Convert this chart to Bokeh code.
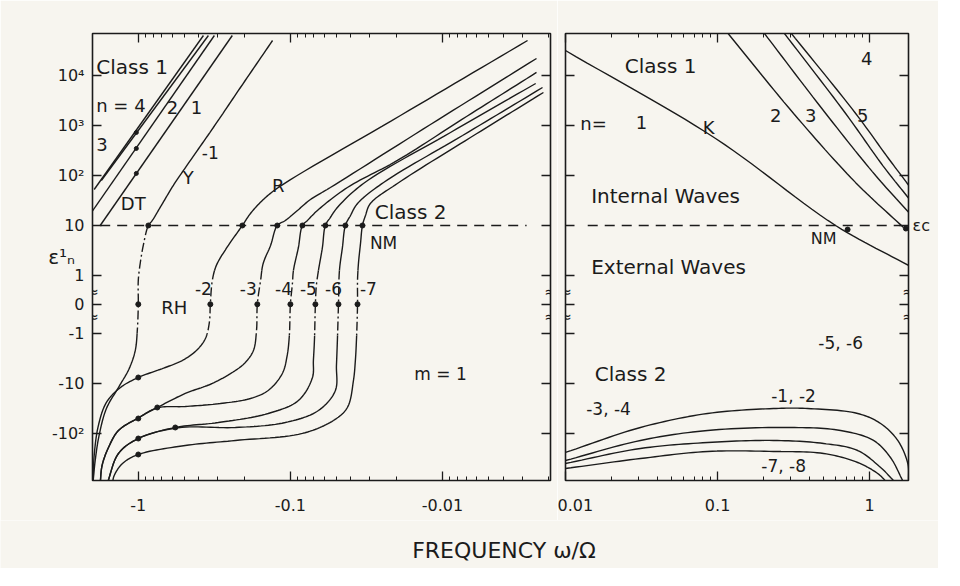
import numpy as np
from bokeh.plotting import figure
from bokeh.models import Range1d, FixedTicker, LogAxis, LinearAxis, Label
from bokeh.layouts import column, row
from bokeh.core.properties import value
from bokeh.embed import file_html
from bokeh.resources import INLINE

# ---------------- data ----------------
eps_ticks = [1e4, 1e3, 1e2, 10, 1, 0, -1, -10, -100]
eps_tick_labels = ["10⁴", "10³", "10²", "10", "1", "0", "-1", "-10", "-10²"]
left_freq_ticks = [-1, -0.1, -0.01]
left_freq_labels = ["-1", "-0.1", "-0.01"]
right_freq_ticks = [0.01, 0.1, 1]
right_freq_labels = ["0.01", "0.1", "1"]
break_eps = [0.41, -0.46]
eps_c = 10  # critical value marked at the right edge

# Class 1, westward (left panel): n = 4, 3, 2, 1
c1_n4_w = [-1.95, -0.373]; c1_n4_e = [52.5, 63100]
c1_n3_w = [-1.75, -0.346]; c1_n3_e = [79.4, 63100]
c1_n2_w = [-2.01, -0.316]; c1_n2_e = [19.1, 63100]
c1_n1_w = [-1.78, -0.241]; c1_n1_e = [10, 63100]
c1_mark_w = [-1.03, -1.03, -1.03]; c1_mark_e = [724, 347, 110]

# Yanai / Rossby-Haurwitz branch (n = -1)
y_w = [-0.131, -0.213, -0.321, -0.469, -0.589, -0.706, -0.809, -0.859, -0.927, -0.97, -1.0, -1.0,
       -1.015, -1.047, -1.146, -1.35, -1.62, -1.81, -1.92, -1.98]
y_e = [50100, 5750, 912, 174, 63, 25.1, 12.6, 10, 4.0, 1.8, 0.83, 0,
       -0.91, -2.24, -5.1, -12.3, -32.4, -112, -355, -900]

# Class 2, westward, n = -2 ... -7
n2_w = [-0.00276, -0.0189, -0.120, -0.153, -0.183, -0.207, -0.264, -0.307, -0.326, -0.336, -0.341,
        -0.362, -0.415, -0.514, -0.664, -1.0, -1.31, -1.62, -1.83, -1.95, -1.98]
n2_e = [50100, 1585, 57.5, 31.6, 17.4, 10, 3.47, 1.58, 0.83, 0, -0.63,
        -1.29, -2.24, -3.55, -4.90, -7.76, -12.3, -24.5, -71, -282, -891]
n3_w = [-0.00241, -0.0120, -0.0546, -0.0738, -0.0899, -0.108, -0.122, -0.135, -0.151, -0.157, -0.165,
        -0.167, -0.175, -0.198, -0.230, -0.326, -0.491, -0.750, -1.015, -1.35, -1.57, -1.73, -1.78]
n3_e = [21900, 1047, 57.5, 33.1, 20.0, 12.6, 10, 3.98, 1.74, 0.83, 0,
        -0.91, -2.24, -3.89, -5.62, -10.2, -16.2, -30.9, -51.3, -89.1, -195, -447, -1023]
n4_w = [-0.00241, -0.00695, -0.0198, -0.0422, -0.0664, -0.0773, -0.0834, -0.0886, -0.0955, -0.0970, -0.1,
        -0.1016, -0.105, -0.113, -0.140, -0.183, -0.289, -0.491, -0.750, -1.015, -1.35, -1.57, -1.73, -1.78]
n4_e = [11500, 1514, 200, 57.5, 20.0, 12.6, 10, 3.63, 1.26, 0.72, 0,
        -1.12, -2.82, -6.46, -14.1, -20.4, -25.7, -29.5, -31.5, -51.3, -89.1, -195, -447, -1023]
n5_w = [-0.00244, -0.00886, -0.0331, -0.0491, -0.0546, -0.0589, -0.0616, -0.0654, -0.0675, -0.0685,
        -0.0695, -0.0706, -0.0716, -0.0886, -0.140, -0.298, -0.571, -1.0, -1.35, -1.60]
n5_e = [6920, 724, 69.2, 22.9, 14.5, 10, 3.63, 1.26, 0.65, 0,
        -1.41, -3.55, -7.76, -22.4, -40.7, -61.7, -77.6, -129, -257, -1023]
n6_w = [-0.00220, -0.00738, -0.0244, -0.0362, -0.0403, -0.0435, -0.0455, -0.0476, -0.0483,
        -0.0491, -0.0498, -0.0506, -0.0654, -0.108, -0.230, -0.546, -1.0, -1.35, -1.60]
n6_e = [5750, 631, 72.4, 27.5, 15.8, 10, 3.63, 1.26, 0,
        -1.41, -4.47, -14.1, -35.5, -61.7, -77.6, -78.5, -129, -257, -1023]
n7_w = [-0.00217, -0.00655, -0.0198, -0.0298, -0.0321, -0.0336, -0.0346, -0.0357, -0.0362, -0.0362,
        -0.0368, -0.0374, -0.0385, -0.0422, -0.0521, -0.0834, -0.230, -0.491, -1.0, -1.27, -1.44, -1.48]
n7_e = [4570, 575, 69.2, 27.5, 15.8, 10, 4.37, 1.74, 0.83, 0,
        -1.41, -3.55, -8.91, -30.9, -56.2, -102, -141, -178, -269, -407, -708, -1023]

mark10_w = [-0.859, -0.207, -0.122, -0.0834, -0.0589, -0.0435, -0.0336]
mark0_w = [-1.0, -0.336, -0.165, -0.1, -0.0685, -0.0483, -0.0362]
marklow_w = [-1.0, -0.75, -1.0, -0.571, -1.0, -1.0]
marklow_e = [-7.76, -30.9, -51.3, -77.6, -129, -269]

# Class 1, eastward (right panel): n = 1 (Kelvin), 2, 3, 5, 4
k_w = [0.01, 0.097, 0.597, 1.81];  k_e = [31600, 550, 10, 1.58]
r2_w = [0.113, 0.316, 0.809, 1.67]; r2_e = [79400, 1740, 72, 9.1]
r3_w = [0.201, 0.514, 1.094, 1.81]; r3_e = [72400, 1740, 100, 18.2]
r5_w = [0.272, 0.695, 1.22, 1.81];  r5_e = [72400, 1740, 158, 34.7]
r4_w = [0.302, 0.809, 1.33, 1.81];  r4_e = [72400, 1740, 219, 63]
rmark_w = [0.716, 1.73]; rmark_e = [8.3, 8.7]

# Class 2, eastward (right panel)
ra_w = [0.01, 0.0311, 0.0859, 0.233, 0.391, 0.834, 1.18, 1.53, 1.78, 1.8]
ra_e = [-245, -77.6, -40.7, -32.4, -32.4, -40.7, -64.6, -141, -407, -900]
rb_w = [0.01, 0.0311, 0.0859, 0.302, 0.644, 1.06, 1.37, 1.65]
rb_e = [-355, -141, -89, -77.6, -89, -141, -309, -900]
rc_w = [0.01, 0.0311, 0.0859, 0.233, 0.498, 0.834, 1.18, 1.44]
rc_e = [-407, -204, -155, -141, -162, -224, -490, -900]
rd_w = [0.01, 0.0311, 0.0859, 0.233, 0.498, 0.834, 1.13, 1.27]
rd_e = [-513, -324, -234, -234, -257, -389, -646, -900]

dash_left_w = [-1.78, -0.0028]
dash_right_w = [0.014, 1.6]
dash_eps = 10

left_texts = [
    ("Class 1", -1.89, 14500, "left", "20px"),
    ("n = 4", -1.89, 2510, "left", "18px"),
    ("2", -0.597, 2290, "center", "18px"),
    ("1", -0.415, 2290, "center", "18px"),
    ("3", -1.73, 417, "center", "18px"),
    ("-1", -0.336, 288, "center", "17px"),
    ("Y", -0.469, 91, "center", "18px"),
    ("DT", -1.08, 27.5, "center", "18px"),
    ("R", -0.12, 63, "center", "18px"),
    ("Class 2", -0.0162, 18.2, "center", "20px"),
    ("NM", -0.0244, 4.57, "center", "17px"),
    ("-2", -0.373, 0.55, "center", "17px"),
    ("-3", -0.189, 0.55, "center", "17px"),
    ("-4", -0.111, 0.55, "center", "17px"),
    ("-5", -0.0762, 0.55, "center", "17px"),
    ("-6", -0.0521, 0.55, "center", "17px"),
    ("-7", -0.0307, 0.55, "center", "17px"),
    ("RH", -0.58, -0.11, "center", "18px"),
    ("m = 1", -0.0103, -6.46, "center", "17px"),
]
right_texts = [
    ("Class 1", 0.0422, 15800, "center", "20px"),
    ("n=", 0.0153, 1096, "center", "18px"),
    ("1", 0.0316, 1148, "center", "18px"),
    ("K", 0.0873, 912, "center", "18px"),
    ("2", 0.241, 1585, "center", "18px"),
    ("3", 0.409, 1585, "center", "18px"),
    ("5", 0.9, 1585, "center", "18px"),
    ("4", 0.955, 21900, "center", "18px"),
    ("Internal Waves", 0.0455, 39.8, "center", "20px"),
    ("External Waves", 0.0476, 1.5, "center", "20px"),
    ("NM", 0.498, 5.5, "center", "16px"),
    ("Class 2", 0.0268, -6.46, "center", "20px"),
    ("-3, -4", 0.0192, -32.4, "center", "17px"),
    ("-5, -6", 0.644, -1.62, "center", "17px"),
    ("-1, -2", 0.316, -17.8, "center", "17px"),
    ("-7, -8", 0.272, -447, "center", "17px"),
]

# ---------------- styling ----------------
INK = "#1b1b1b"
PAPER = "#f7f5ef"
FONT = "DejaVu Sans"
LW = 1.4
DASHDOT = "9 3 2 3"


def pos(e):
    """Piecewise epsilon axis: log above 1, linear between -1 and 1, log below -1."""
    e = np.asarray(e, dtype=float)
    out = np.log10(np.maximum(e, 1.0))
    out = np.where((e > -1) & (e < 1), -0.575 + 0.575 * e, out)
    out = np.where(e <= -1, -1.15 - np.log10(np.maximum(-e, 1.0)), out)
    return out


def smooth(s, e, n=14):
    X = np.log10(np.abs(np.asarray(s, float))) * 152.0
    Y = pos(e) * 50.0
    P = np.column_stack([X, Y])
    if len(P) < 3:
        return 10 ** (P[:, 0] / 152.0), P[:, 1] / 50.0
    P = np.vstack([2 * P[0] - P[1], P, 2 * P[-1] - P[-2]])
    out = []
    m = len(P) - 3
    for i in range(m):
        p0, p1, p2, p3 = P[i], P[i + 1], P[i + 2], P[i + 3]

        def tj(ti, a, b):
            return ti + max(np.hypot(*(b - a)), 1e-6) ** 0.5
        t0 = 0.0
        t1 = tj(t0, p0, p1)
        t2 = tj(t1, p1, p2)
        t3 = tj(t2, p2, p3)
        t = np.linspace(t1, t2, n, endpoint=(i == m - 1))[:, None]
        A1 = (t1 - t) / (t1 - t0) * p0 + (t - t0) / (t1 - t0) * p1
        A2 = (t2 - t) / (t2 - t1) * p1 + (t - t1) / (t2 - t1) * p2
        A3 = (t3 - t) / (t3 - t2) * p2 + (t - t2) / (t3 - t2) * p3
        B1 = (t2 - t) / (t2 - t0) * A1 + (t - t0) / (t2 - t0) * A2
        B2 = (t3 - t) / (t3 - t1) * A2 + (t - t1) / (t3 - t1) * A3
        C = (t2 - t) / (t2 - t1) * B1 + (t - t1) / (t2 - t1) * B2
        out.append(C)
    C = np.vstack(out)
    return 10 ** (C[:, 0] / 152.0), C[:, 1] / 50.0


def runs(mask):
    segs = []
    start = 0
    for i in range(1, len(mask) + 1):
        if i == len(mask) or mask[i] != mask[start]:
            segs.append((start, min(i + 1, len(mask)), bool(mask[start])))
            start = i
    return segs


def draw_curve(p, w, e, top=None, bot=None):
    s, u = smooth(w, e)
    if top is None:
        p.line(s, u, line_color=INK, line_width=LW)
        return
    ut, ub = float(pos(top)), float(pos(bot))
    mask = (u < ut) & (u > ub)
    for a, b, mid in runs(mask):
        p.line(s[a:b], u[a:b], line_color=INK, line_width=LW,
               line_dash=DASHDOT if mid else "solid")


def style_axis(ax, labels=True):
    ax.major_tick_in = 9
    ax.major_tick_out = 0
    ax.minor_tick_in = 4
    ax.minor_tick_out = 0
    ax.axis_line_color = None
    ax.major_tick_line_color = INK
    ax.minor_tick_line_color = INK
    ax.major_tick_line_width = 1.3
    ax.major_label_text_font = FONT
    ax.major_label_text_color = INK
    ax.major_label_text_font_size = "16px"
    if not labels:
        ax.major_label_text_font_size = "2px"
        ax.major_label_text_alpha = 0.0
        ax.major_label_standoff = 0


yt = [float(v) for v in pos(eps_ticks)]

minor_left = [float(m * 10.0 ** k) for k in (-3, -2, -1) for m in range(2, 10)] + [2.0]
minor_right = [float(m * 10.0 ** k) for k in (-2, -1) for m in range(2, 10)]
lx = [float(-t) for t in left_freq_ticks]
rx = [float(t) for t in right_freq_ticks]

Y_LO, Y_HI = -4.1, 4.84
TOP = 33


def make_fig(width, xr, bl, br):
    p = figure(width=width, height=TOP + 447 + 40, x_axis_type="log", x_range=xr,
               y_range=Range1d(Y_LO, Y_HI), toolbar_location=None, output_backend="svg",
               min_border_left=bl, min_border_right=br, min_border_top=TOP, min_border_bottom=40,
               background_fill_color=PAPER, border_fill_color=PAPER,
               outline_line_color=INK, outline_line_width=1.6)
    p.grid.visible = False
    return p


# ---------------- left panel ----------------
p1 = make_fig(92 + 458 + 7, Range1d(2.0, 0.00195), 92, 7)
p1.xaxis[0].ticker = FixedTicker(ticks=lx, minor_ticks=minor_left)
p1.xaxis[0].major_label_overrides = dict(zip(lx, left_freq_labels))
style_axis(p1.xaxis[0])
p1.xaxis[0].major_label_standoff = 18
ya = p1.yaxis[0]
ya.ticker = FixedTicker(ticks=yt, minor_ticks=[])
ya.major_label_overrides = dict(zip(yt, eps_tick_labels))
style_axis(ya)
ya.major_label_standoff = 8
ya.axis_label = "ε¹ₙ"
ya.axis_label_orientation = "horizontal"
ya.axis_label_standoff = -26
ya.axis_label_text_font = FONT
ya.axis_label_text_font_style = "normal"
ya.axis_label_text_font_size = "20px"
ya.axis_label_text_color = INK
ax = LogAxis(ticker=FixedTicker(ticks=lx, minor_ticks=minor_left)); style_axis(ax, False)
p1.add_layout(ax, "above")
ax = LinearAxis(ticker=FixedTicker(ticks=yt, minor_ticks=[])); style_axis(ax, False)
p1.add_layout(ax, "right")

for w, e in [(c1_n4_w, c1_n4_e), (c1_n3_w, c1_n3_e), (c1_n2_w, c1_n2_e), (c1_n1_w, c1_n1_e)]:
    draw_curve(p1, w, e)
draw_curve(p1, y_w, y_e, top=10, bot=-1.0)
for w, e in [(n2_w, n2_e), (n3_w, n3_e), (n4_w, n4_e), (n5_w, n5_e), (n6_w, n6_e), (n7_w, n7_e)]:
    draw_curve(p1, w, e, top=1.3, bot=-1.05)

p1.line(np.abs(dash_left_w), pos([dash_eps, dash_eps]), line_color=INK, line_width=1.3, line_dash="10 7")

p1.scatter(np.abs(mark10_w), pos([10] * len(mark10_w)), size=5, color=INK)
p1.scatter(np.abs(mark0_w), pos([0] * len(mark0_w)), size=5, color=INK)
p1.scatter(np.abs(marklow_w), pos(marklow_e), size=5, color=INK)
p1.scatter(np.abs(c1_mark_w), pos(c1_mark_e), size=4, color=INK)

for t, w, e, al, fs in left_texts:
    p1.text(x=[abs(w)], y=[float(pos(e))], text=[t], text_font=value(FONT),
            text_font_size=value(fs), text_color=INK, text_align=al, text_baseline="middle")

# ---------------- right panel ----------------
p2 = make_fig(8 + 343 + 30, Range1d(0.01, 1.8), 8, 30)
p2.xaxis[0].ticker = FixedTicker(ticks=rx, minor_ticks=minor_right)
p2.xaxis[0].major_label_overrides = dict(zip(rx, right_freq_labels))
style_axis(p2.xaxis[0])
p2.xaxis[0].major_label_standoff = 18
p2.yaxis[0].ticker = FixedTicker(ticks=yt, minor_ticks=[])
style_axis(p2.yaxis[0], False)
ax = LogAxis(ticker=FixedTicker(ticks=rx, minor_ticks=minor_right)); style_axis(ax, False)
p2.add_layout(ax, "above")
ax = LinearAxis(ticker=FixedTicker(ticks=yt, minor_ticks=[])); style_axis(ax)
ax.major_label_text_font_size = "16px"
ax.major_label_standoff = 4
yc = float(pos(eps_c))
ax.major_label_overrides = {v: ("εc" if v == yc else " ") for v in yt}
p2.add_layout(ax, "right")

for w, e in [(k_w, k_e), (r2_w, r2_e), (r3_w, r3_e), (r5_w, r5_e), (r4_w, r4_e),
             (ra_w, ra_e), (rb_w, rb_e), (rc_w, rc_e), (rd_w, rd_e)]:
    draw_curve(p2, w, e)
p2.line(dash_right_w, pos([dash_eps, dash_eps]), line_color=INK, line_width=1.3, line_dash="10 7")
p2.scatter(rmark_w, pos(rmark_e), size=5, color=INK)

for t, w, e, al, fs in right_texts:
    p2.text(x=[w], y=[float(pos(e))], text=[t], text_font=value(FONT),
            text_font_size=value(fs), text_color=INK, text_align=al, text_baseline="middle")

# axis break marks on all four vertical frame edges
for p, edges in [(p1, [2.0, 0.00195]), (p2, [0.01, 1.8])]:
    for xe in edges:
        for be in break_eps:
            p.add_layout(Label(x=xe, y=float(pos(be)), text="≈", text_font=FONT,
                               text_font_size="15px", text_color=INK, text_align="center",
                               text_baseline="middle"))

# ---------------- x-axis title strip ----------------
p3 = figure(width=938, height=48, x_range=Range1d(0, 938), y_range=Range1d(0, 48),
            toolbar_location=None, output_backend="svg", min_border=0,
            background_fill_color=PAPER, border_fill_color=PAPER, outline_line_color=None)
p3.axis.visible = False
p3.grid.visible = False
p3.add_layout(Label(x=507, y=18, text="FREQUENCY  ω/Ω", text_font=FONT, text_font_size="22px",
                    text_color=INK, text_align="center", text_baseline="middle"))

layout = column(row(p1, p2), p3)
open("out.html", "w").write(file_html(layout, INLINE))
